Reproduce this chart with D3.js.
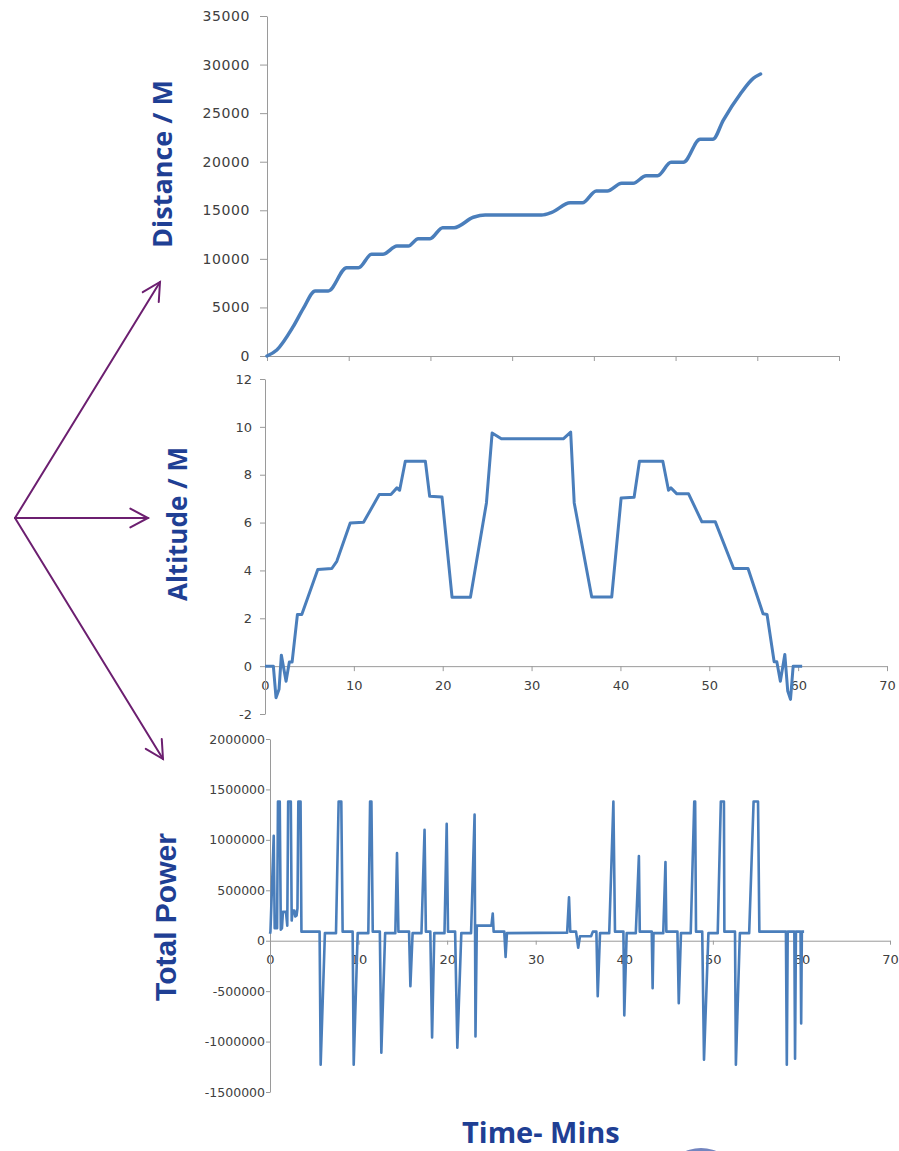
<!DOCTYPE html>
<html><head><meta charset="utf-8">
<script src="https://cdn.jsdelivr.net/npm/d3@7"></script>
<style>body{margin:0;background:#fff;overflow:hidden}</style>
</head><body>
<svg id="c" width="899" height="1151"></svg>
<script>
// ---------- DATA ----------
const xTicks = [0,10,20,30,40,50,60,70];
const distTicks = [0,5000,10000,15000,20000,25000,30000,35000];
const altTicks = [-2,0,2,4,6,8,10,12];
const powerTicks = [-1500000,-1000000,-500000,0,500000,1000000,1500000,2000000];

const distTime = [0,1.2,3.2,4.45,5.9,7.5,9.75,11.2,12.8,14.2,15.9,17.3,18.5,19.95,21.5,22.9,25.25,26.7,33.6,34.85,37.1,38.6,40.3,41.65,43.4,44.8,46.4,47.8,49.45,50.95,53,54.55,55.85,57.9,59.5,60.4];
const distValues = [0,620,3020,4900,6700,6700,9090,9090,10470,10470,11320,11320,12080,12080,13210,13210,14280,14520,14520,14790,15780,15780,16990,16990,17780,17780,18560,18560,19940,19940,22300,22300,24290,26940,28580,29030];

const altTime = [0,0.94,1.24,1.58,1.84,2.37,2.74,3.05,3.65,4.14,5.94,7.52,8.08,9.59,11.09,12.86,14.17,14.85,15.15,15.79,18.05,18.53,19.92,21.05,23.12,24.92,25.56,26.6,33.57,34.4,34.8,36.77,39.02,40.08,41.54,42.14,44.77,45.41,45.68,46.35,47.67,49.17,50.68,52.74,54.36,56.05,56.5,57.3,57.6,58,58.5,58.83,59.14,59.44,60.45];
const altValues = [0,0,-1.32,-0.97,0.46,-0.63,0.17,0.17,2.16,2.16,4.04,4.08,4.38,5.98,6.01,7.17,7.17,7.45,7.35,8.56,8.56,7.1,7.07,2.88,2.88,6.82,9.74,9.5,9.5,9.78,6.82,2.89,2.89,7.03,7.06,8.56,8.56,7.35,7.45,7.2,7.2,6.03,6.03,4.08,4.08,2.19,2.16,0.18,0.18,-0.63,0.49,-1.04,-1.39,0,0];

const powerTime = [0,0.05,0.42,0.53,0.8,0.9,1.1,1.22,1.35,1.46,1.8,1.95,2.05,2.35,2.45,2.55,2.75,2.85,3.0,3.1,3.2,3.45,3.55,5.6,5.72,6.2,7.45,7.75,8.05,8.2,9.33,9.45,9.9,11.1,11.3,11.45,11.6,12.4,12.57,13.0,14.15,14.34,14.5,15.7,15.85,16.1,17.1,17.45,17.6,18.1,18.3,18.55,19.7,19.95,20.1,20.9,21.15,21.6,22.7,23.1,23.2,23.35,25.0,25.15,25.25,26.45,26.6,26.75,33.55,33.76,33.9,34.55,34.8,35.0,36.25,36.45,36.85,37.0,37.26,38.3,38.77,38.95,39.9,40.0,40.27,41.3,41.65,41.75,43.1,43.2,43.3,44.4,44.65,44.75,46.0,46.15,46.4,47.5,47.9,48.0,48.1,48.8,49.0,49.5,50.55,50.9,51.25,51.3,52.5,52.6,53.05,54.1,54.6,55.1,55.25,58.25,58.35,58.45,59.2,59.28,59.38,59.9,59.97,60.05,60.3];
const powerValues = [70000,90000,1040000,124000,124000,1380000,1380000,110000,124000,286000,286000,150000,1380000,1380000,200000,300000,300000,240000,250000,320000,1380000,1380000,90000,90000,-1230000,75000,75000,1380000,1380000,90000,90000,-1230000,75000,75000,1380000,1380000,90000,90000,-1110000,75000,75000,870000,90000,90000,-450000,75000,75000,1100000,90000,90000,-960000,75000,75000,1160000,90000,90000,-1060000,75000,75000,1250000,-950000,150000,150000,270000,90000,90000,-160000,75000,80000,430000,90000,90000,-70000,45000,45000,90000,90000,-550000,75000,75000,1380000,90000,90000,-740000,75000,75000,840000,90000,90000,-470000,75000,75000,780000,90000,90000,-620000,75000,75000,1380000,1380000,90000,90000,-1180000,75000,75000,1380000,1380000,90000,90000,-1230000,75000,75000,1380000,1380000,90000,90000,-1230000,90000,90000,-1170000,90000,90000,-820000,90000,90000];

// ---------- DRAW ----------
const svg = d3.select("#c");
const LINE = "#4a7ebb", AXIS = "#9a9a9a", TXT = "#404040", TITLE = "#1f3f94", ARROW = "#6c1f70";
const zip = (t, v) => t.map((d, i) => ({t: d, v: v[i]}));
const plain = d => String(d);

function styleAxis(g, size, ls) {
  g.select(".domain").attr("stroke", AXIS).attr("stroke-width", 1);
  g.selectAll(".tick line").attr("stroke", AXIS);
  g.selectAll(".tick text").attr("fill", TXT).style("font-family", "'DejaVu Sans', sans-serif")
    .style("font-size", size + "px").style("letter-spacing", (ls || 0) + "px");
}

// Top: distance
const xTop = d3.scaleLinear().domain([0,70]).range([267,839]);
const yTop = d3.scaleLinear().domain([0,35000]).range([356,16]);
svg.append("g").attr("transform", `translate(0,${yTop(0)})`)
  .call(d3.axisBottom(xTop).tickValues(xTicks).tickSize(5).tickSizeOuter(0).tickFormat(""))
  .call(g => styleAxis(g, 13));
svg.append("g").attr("transform", `translate(${xTop(0)},0)`)
  .call(d3.axisLeft(yTop).tickValues(distTicks).tickSize(7).tickPadding(10).tickSizeOuter(0).tickFormat(plain))
  .call(g => styleAxis(g, 14, 0.6));
svg.append("path").datum(zip(distTime, distValues))
  .attr("fill", "none").attr("stroke", LINE).attr("stroke-width", 3.5).attr("stroke-linejoin", "round").attr("stroke-linecap", "round")
  .attr("d", d3.line().x(d => xTop(d.t)).y(d => yTop(d.v)).curve(d3.curveMonotoneX));

// Middle: altitude
const xMid = d3.scaleLinear().domain([0,70]).range([265,887]);
const yMid = d3.scaleLinear().domain([-2,12]).range([714,379]);
svg.append("g").attr("transform", `translate(0,${yMid(0)})`)
  .call(d3.axisBottom(xMid).tickValues(xTicks).tickSize(5).tickPadding(10).tickSizeOuter(0).tickFormat(plain))
  .call(g => styleAxis(g, 13));
svg.append("g").attr("transform", `translate(${xMid(0)},0)`)
  .call(d3.axisLeft(yMid).tickValues(altTicks).tickSize(5).tickPadding(8).tickSizeOuter(0).tickFormat(plain))
  .call(g => styleAxis(g, 13));
svg.append("path").datum(zip(altTime, altValues))
  .attr("fill", "none").attr("stroke", LINE).attr("stroke-width", 3).attr("stroke-linejoin", "round")
  .attr("d", d3.line().x(d => xMid(d.t)).y(d => yMid(d.v)));

// Bottom: power
const xBot = d3.scaleLinear().domain([0,70]).range([270,890]);
const yBot = d3.scaleLinear().domain([-1500000,2000000]).range([1092,739]);
svg.append("g").attr("transform", `translate(0,${yBot(0)})`)
  .call(d3.axisBottom(xBot).tickValues(xTicks).tickSize(4).tickPadding(10).tickSizeOuter(0).tickFormat(plain))
  .call(g => styleAxis(g, 13));
svg.append("g").attr("transform", `translate(${xBot(0)},0)`)
  .call(d3.axisLeft(yBot).tickValues(powerTicks).tickSize(4).tickPadding(1).tickSizeOuter(0).tickFormat(plain))
  .call(g => styleAxis(g, 12.5));
svg.append("path").datum(zip(powerTime, powerValues))
  .attr("fill", "none").attr("stroke", LINE).attr("stroke-width", 2.6).attr("stroke-linejoin", "round")
  .attr("d", d3.line().x(d => xBot(d.t)).y(d => yBot(d.v)));

// Titles
function vTitle(text, x, y, size, family) {
  svg.append("text").attr("transform", `translate(${x},${y}) rotate(-90)`)
    .attr("text-anchor", "middle").attr("fill", TITLE)
    .style("font-family", family).style("font-weight", "bold").style("font-size", size + "px")
    .text(text);
}
vTitle("Distance / M", 172, 164, 27, "'Open Sans', sans-serif");
vTitle("Altitude / M", 187, 524, 26, "'Open Sans', sans-serif");
vTitle("Total Power", 176, 917, 30, "'Liberation Sans', Arial, sans-serif");
svg.append("text").attr("x", 462).attr("y", 1143).attr("fill", TITLE)
  .style("font-family", "'Open Sans', sans-serif").style("font-weight", "bold").style("font-size", "29px")
  .text("Time- Mins");

// decorative arc at bottom
svg.append("ellipse").attr("cx", 701).attr("cy", 1170).attr("rx", 30).attr("ry", 22)
  .attr("fill", "#5a70b4").attr("opacity", 0.85);

// Arrows
function arrow(x0, y0, x1, y1) {
  const g = svg.append("g").attr("stroke", ARROW).attr("stroke-width", 2).attr("fill", "none").attr("stroke-linecap", "round");
  g.append("line").attr("x1", x0).attr("y1", y0).attr("x2", x1).attr("y2", y1);
  const a = Math.atan2(y1 - y0, x1 - x0), L = 20, h = 28 * Math.PI / 180;
  const p1 = [x1 - L * Math.cos(a - h), y1 - L * Math.sin(a - h)];
  const p2 = [x1 - L * Math.cos(a + h), y1 - L * Math.sin(a + h)];
  g.append("path").attr("d", `M${p1[0]},${p1[1]}L${x1},${y1}L${p2[0]},${p2[1]}`).attr("stroke-linejoin", "miter");
}
arrow(15, 518, 160, 282);
arrow(15, 518, 148, 518);
arrow(15, 518, 163, 759);
</script>
</body></html>
